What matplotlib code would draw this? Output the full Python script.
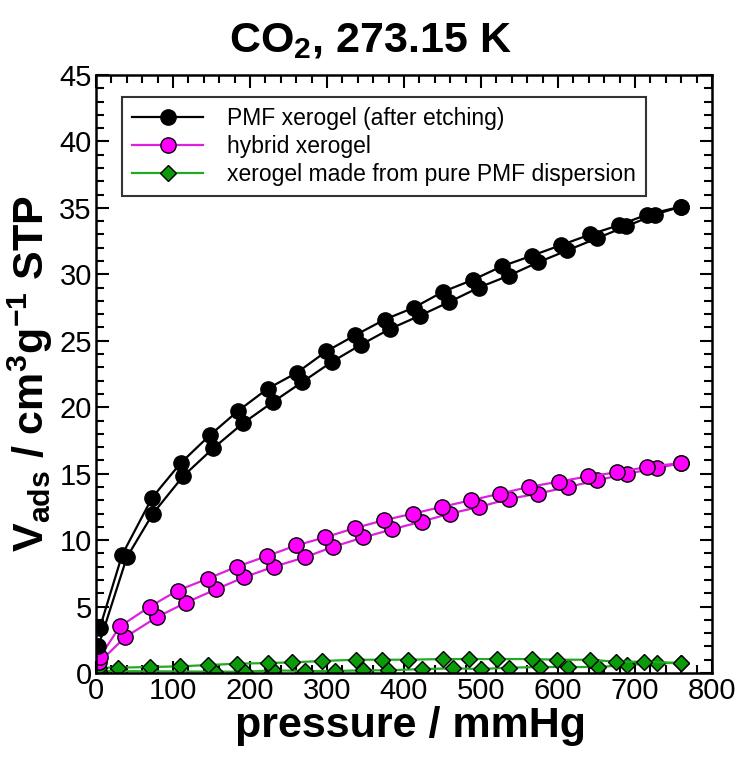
import matplotlib
matplotlib.use("Agg")
import matplotlib.pyplot as plt
from matplotlib.ticker import MultipleLocator

plt.rcParams['font.family'] = ['Liberation Sans', 'DejaVu Sans']
plt.rcParams['mathtext.fontset'] = 'custom'
plt.rcParams['mathtext.rm'] = 'Liberation Sans'
plt.rcParams['mathtext.bf'] = 'Liberation Sans:bold'

# PMF xerogel (after etching)
pmf_p_low = [3, 40, 74, 113, 152, 191, 230, 268, 306, 344, 382, 421, 458, 497, 536, 574, 612, 650, 688, 726, 760]
pmf_v_low = [2.0, 8.7, 12.0, 14.8, 16.9, 18.8, 20.4, 21.9, 23.4, 24.7, 25.9, 26.9, 27.9, 29.0, 29.9, 30.9, 31.8, 32.7, 33.6, 34.5, 35.1]
pmf_p_up = [5, 34, 73, 110, 148, 184, 223, 261, 299, 336, 375, 413, 451, 490, 527, 566, 604, 642, 679, 716, 760]
pmf_v_up = [3.4, 8.9, 13.2, 15.8, 17.9, 19.7, 21.4, 22.6, 24.2, 25.4, 26.6, 27.5, 28.7, 29.6, 30.6, 31.4, 32.2, 33.0, 33.7, 34.5, 35.1]

# hybrid xerogel
hyb_p_low = [4, 38, 79, 117, 156, 192, 231, 271, 308, 347, 384, 423, 460, 498, 536, 574, 613, 651, 689, 728, 760]
hyb_v_low = [0.8, 2.7, 4.2, 5.3, 6.3, 7.2, 8.0, 8.7, 9.5, 10.2, 10.8, 11.4, 12.0, 12.5, 13.1, 13.5, 14.0, 14.5, 15.0, 15.4, 15.8]
hyb_p_up = [5, 31, 70, 106, 145, 183, 222, 260, 297, 336, 374, 412, 449, 487, 525, 562, 601, 639, 677, 715, 760]
hyb_v_up = [1.2, 3.5, 5.0, 6.2, 7.1, 8.0, 8.8, 9.6, 10.2, 10.9, 11.5, 12.0, 12.5, 13.0, 13.5, 14.0, 14.4, 14.8, 15.1, 15.5, 15.8]

# xerogel made from pure PMF dispersion
pure_p_up = [4, 29, 70, 109, 146, 183, 223, 254, 293, 338, 371, 405, 450, 484, 521, 566, 599, 641, 675, 712, 760]
pure_v_up = [0.4, 0.4, 0.45, 0.5, 0.6, 0.7, 0.75, 0.8, 0.9, 1.0, 1.0, 1.0, 1.05, 1.05, 1.05, 1.05, 1.0, 1.0, 0.85, 0.85, 0.75]
pure_p_low = [4, 155, 194, 230, 271, 310, 347, 379, 424, 464, 500, 536, 577, 613, 652, 689, 728, 760]
pure_v_low = [0.15, 0.1, 0.1, 0.2, 0.15, 0.15, 0.2, 0.2, 0.3, 0.35, 0.3, 0.4, 0.45, 0.45, 0.45, 0.6, 0.75, 0.75]

labels = ["PMF xerogel (after etching)", "hybrid xerogel", "xerogel made from pure PMF dispersion"]
x_ticks = [0, 100, 200, 300, 400, 500, 600, 700, 800]
y_ticks = [0, 5, 10, 15, 20, 25, 30, 35, 40, 45]

fig = plt.figure(figsize=(7.41, 7.60), dpi=100)
ax = fig.add_axes([96/741, 87/760, 616/741, 598/760])

black_kw = dict(color='black', lw=1.6, marker='o', ms=11, mfc='black', mec='black', mew=1.0)
mag_kw = dict(color='#e020e0', lw=1.6, marker='o', ms=11, mfc='#ff00ff', mec='black', mew=1.0)
grn_kw = dict(color='#22aa22', lw=1.6, marker='D', ms=8, mfc='#0a9a0a', mec='black', mew=1.0)

ax.plot(pure_p_low, pure_v_low, **grn_kw)
ax.plot(pure_p_up, pure_v_up, **grn_kw)
ax.plot(hyb_p_low, hyb_v_low, **mag_kw)
ax.plot(hyb_p_up, hyb_v_up, **mag_kw)
ax.plot(pmf_p_low, pmf_v_low, **black_kw)
ax.plot(pmf_p_up, pmf_v_up, **black_kw)

h1, = ax.plot([], [], **black_kw)
h2, = ax.plot([], [], **mag_kw)
h3, = ax.plot([], [], **grn_kw)

ax.set_xlim(0, 800)
ax.set_ylim(0, 45)
ax.set_xticks(x_ticks)
ax.set_yticks(y_ticks)
ax.xaxis.set_minor_locator(MultipleLocator(20))
ax.yaxis.set_minor_locator(MultipleLocator(1))
ax.tick_params(which='both', direction='in', top=True, right=True, width=1.5)
ax.tick_params(which='major', length=9, labelsize=21, pad=3)
ax.tick_params(which='minor', length=6)
for s in ax.spines.values():
    s.set_linewidth(1.8)

ax.set_xlabel('pressure / mmHg', fontsize=31, fontweight='bold')
ax.xaxis.set_label_coords(0.511, -0.056)
ax.set_ylabel(r'$\mathbf{V_{ads}}$ / cm$^{\mathbf{3}}$g$^{\mathbf{-1}}$ STP', fontsize=31, fontweight='bold')
ax.yaxis.set_label_coords(-0.066, 0.5)

fig.text(370/741, (760-52)/760, r'CO$_{\mathbf{2}}$, 273.15 K', fontsize=31, fontweight='bold',
         ha='center', va='baseline')

leg = ax.legend([h1, h2, h3], labels, loc='upper left', bbox_to_anchor=(0.042, 0.963),
                fontsize=16.5, frameon=True, fancybox=False, handlelength=3.1,
                handletextpad=1.05, labelspacing=0.2, borderpad=0.45, borderaxespad=0)
leg.get_frame().set_edgecolor('black')
leg.get_frame().set_linewidth(1.5)

fig.savefig('out.png', dpi=100)
